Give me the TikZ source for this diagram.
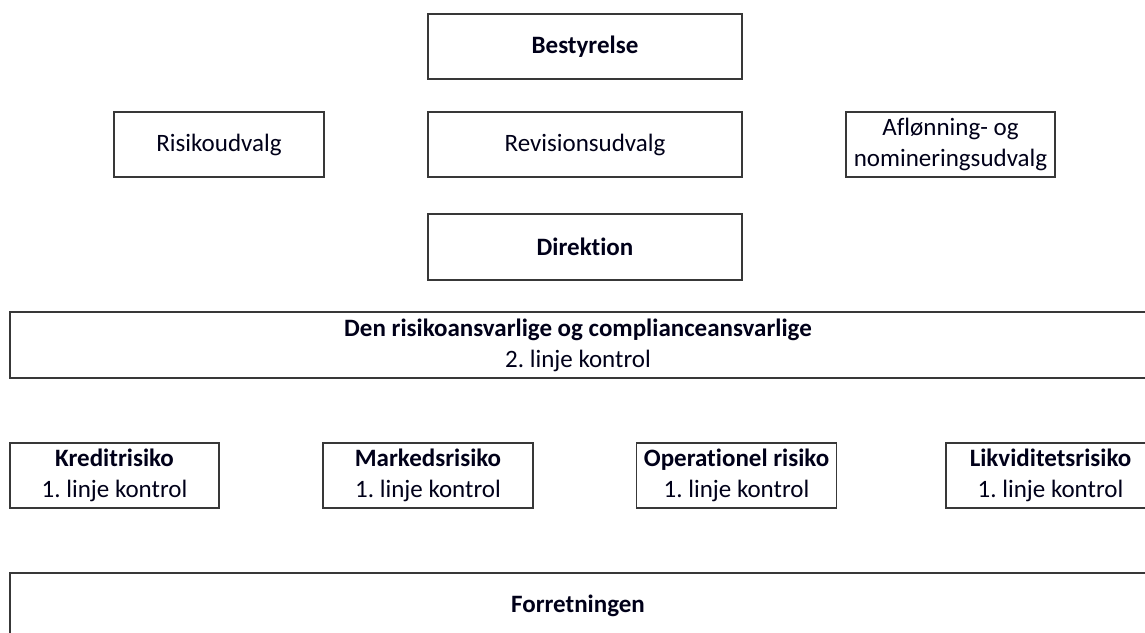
\documentclass[tikz,border=0pt]{standalone}
\usepackage{fontspec}
\setmainfont{Carlito}[Ligatures={NoCommon}]
\frenchspacing
\begin{document}
\begin{tikzpicture}[x=1pt,y=-1pt,
  box/.style={draw=black!78, line width=1.6pt, rectangle, inner sep=0pt, align=center,
    font=\fontsize{25}{31}\selectfont, text=black!90!blue},
  bbox/.style={box, font=\fontsize{25}{31}\selectfont\bfseries}]
\clip (0,0) rectangle (1145,632);
\fill[white] (0,0) rectangle (1145,632);
\node[bbox, minimum width=314, minimum height=65] (best) at (585,46.5) {Bestyrelse};
\node[box, minimum width=210, minimum height=65] (risk) at (219,144.5) {Risikoudvalg};
\node[box, minimum width=314, minimum height=65] (rev) at (585,144.5) {Revisionsudvalg};
\node[box, minimum width=209, minimum height=65] (afl) at (950.5,144.5) {Aflønning- og\\nomineringsudvalg};
\node[bbox, minimum width=314, minimum height=66] (dir) at (585,247) {Direktion};
\node[box, minimum width=1136, minimum height=66] (den) at (578,345) {\textbf{Den risikoansvarlige og complianceansvarlige}\\2. linje kontrol};
\node[box, minimum width=209, minimum height=65] (kre) at (114.5,475.5) {\textbf{Kreditrisiko}\\1. linje kontrol};
\node[box, minimum width=210, minimum height=65] (mar) at (428,475.5) {\textbf{Markedsrisiko}\\1. linje kontrol};
\node[box, minimum width=200, minimum height=65] (ope) at (736.5,475.5) {\textbf{Operationel risiko}\\1. linje kontrol};
\node[box, minimum width=209, minimum height=65] (lik) at (1050.5,475.5) {\textbf{Likviditetsrisiko}\\1. linje kontrol};
\node[bbox, minimum width=1136, minimum height=66] (for) at (578,606) {Forretningen};
\end{tikzpicture}
\end{document}
